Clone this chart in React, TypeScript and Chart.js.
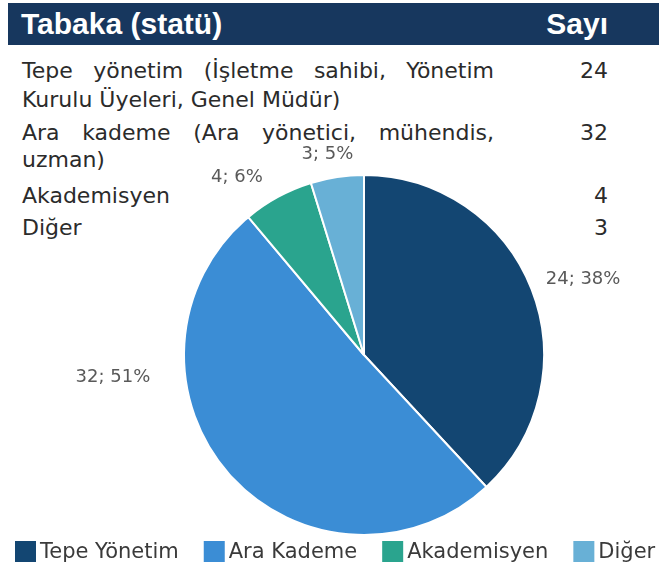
import React, { useEffect, useRef } from 'react';
import { Chart, registerables } from 'chart.js';

Chart.register(...registerables);

// ---- data ----
const categories = ['Tepe Yönetim', 'Ara Kademe', 'Akademisyen', 'Diğer'];
const counts = [24, 32, 4, 3];
const sliceColors = ['#134672', '#3b8dd5', '#2aa48e', '#68b0d6'];
const tableHeader = ['Tabaka (statü)', 'Sayı'];
const tableRowLines = [
  ['Tepe yönetim (İşletme sahibi, Yönetim', 'Kurulu Üyeleri, Genel Müdür)'],
  ['Ara kademe (Ara yönetici, mühendis,', 'uzman)'],
  ['Akademisyen'],
  ['Diğer'],
];

// ---- layout (not data) ----
const W = 659;
const H = 576;
const rowBaselines = [[79, 108], [141, 168], [204], [236]];
const labelAdjust = [
  { dAngle: 0, dR: 6 },
  { dAngle: 35.7, dR: 23 },
  { dAngle: -5, dR: 12 },
  { dAngle: -1, dR: 2 },
];
const BODY_FONT = '"DejaVu Sans", sans-serif';

const sliceLabelPlugin = {
  id: 'sliceLabels',
  afterDatasetsDraw(chart: any) {
    const ctx = chart.ctx;
    const meta = chart.getDatasetMeta(0);
    const data = chart.data.datasets[0].data as number[];
    const total = data.reduce((a: number, b: number) => a + b, 0);
    ctx.save();
    ctx.font = '18px ' + BODY_FONT;
    ctx.fillStyle = '#595959';
    ctx.textAlign = 'center';
    ctx.textBaseline = 'middle';
    meta.data.forEach((arc: any, i: number) => {
      const p = arc.getProps(['x', 'y', 'startAngle', 'endAngle', 'outerRadius'], true);
      const adj = labelAdjust[i];
      const a = (p.startAngle + p.endAngle) / 2 + (adj.dAngle * Math.PI) / 180;
      const R = p.outerRadius + 12 + adj.dR;
      const text = `${data[i]}; ${Math.round((data[i] / total) * 100)}%`;
      const w = ctx.measureText(text).width;
      const h = 18;
      const cx = p.x + R * Math.cos(a) + (Math.cos(a) * w) / 2;
      const cy = p.y + R * Math.sin(a) + (Math.sin(a) * h) / 2;
      ctx.fillText(text, cx, cy);
    });
    ctx.restore();
  },
};

const customLegendPlugin = {
  id: 'customLegend',
  afterDraw(chart: any) {
    const ctx = chart.ctx;
    const labels = chart.data.labels as string[];
    const bg = chart.data.datasets[0].backgroundColor as string[];
    ctx.save();
    ctx.font = '21px ' + BODY_FONT;
    ctx.textAlign = 'left';
    ctx.textBaseline = 'middle';
    const box = 21;
    const top = 541;
    let x = 15;
    labels.forEach((lab, i) => {
      ctx.fillStyle = bg[i];
      ctx.fillRect(x, top, box, box);
      x += box + 4;
      ctx.fillStyle = '#3a3a3a';
      ctx.fillText(lab, x, top + box / 2 + 1);
      x += ctx.measureText(lab).width + 25;
    });
    ctx.restore();
  },
};

export default function App() {
  const canvasRef = useRef<HTMLCanvasElement | null>(null);

  useEffect(() => {
    if (!canvasRef.current) return;
    const chart = new Chart(canvasRef.current, {
      type: 'pie',
      data: {
        labels: categories,
        datasets: [
          {
            data: counts,
            backgroundColor: sliceColors,
            borderColor: '#ffffff',
            borderWidth: 2,
          },
        ],
      },
      options: {
        animation: false,
        responsive: false,
        devicePixelRatio: 1,
        layout: { padding: { top: 174, left: 183, right: 114, bottom: 40 } },
        plugins: {
          legend: { display: false },
          tooltip: { enabled: false },
        },
      },
      plugins: [sliceLabelPlugin, customLegendPlugin],
    });
    return () => chart.destroy();
  }, []);

  const rowTextStyle = (baseline: number, justify: boolean): React.CSSProperties => ({
    position: 'absolute',
    left: 22,
    top: baseline - 18.6,
    width: 472,
    fontFamily: BODY_FONT,
    fontSize: 22,
    lineHeight: '22px',
    color: '#2b2b2b',
    textAlign: justify ? 'justify' : 'left',
    textAlignLast: justify ? 'justify' : 'left',
  });

  const headerStyle: React.CSSProperties = {
    position: 'absolute',
    top: 9,
    fontFamily: '"Liberation Sans", Arial, sans-serif',
    fontWeight: 'bold',
    fontSize: 30,
    lineHeight: '30px',
    color: '#ffffff',
    whiteSpace: 'nowrap',
  };

  return (
    <div
      style={{
        position: 'absolute',
        left: 0,
        top: 0,
        width: W,
        height: H,
        background: '#ffffff',
        overflow: 'hidden',
      }}
    >
      <div
        style={{
          position: 'absolute',
          left: 8,
          top: 3,
          width: W - 8,
          height: 42,
          background: '#17375e',
        }}
      />
      <div style={{ ...headerStyle, left: 21 }}>{tableHeader[0]}</div>
      <div style={{ ...headerStyle, left: 508, width: 100, textAlign: 'right' }}>{tableHeader[1]}</div>
      {tableRowLines.map((lines, r) => (
        <React.Fragment key={r}>
          {lines.map((line, l) => (
            <div key={l} style={rowTextStyle(rowBaselines[r][l], lines.length > 1 && l === 0)}>
              {line}
            </div>
          ))}
          <div
            style={{
              position: 'absolute',
              left: 528,
              width: 80,
              top: rowBaselines[r][0] - 18.6,
              textAlign: 'right',
              fontFamily: BODY_FONT,
              fontSize: 22,
              lineHeight: '22px',
              color: '#2b2b2b',
            }}
          >
            {counts[r]}
          </div>
        </React.Fragment>
      ))}
      <canvas
        ref={canvasRef}
        width={W}
        height={H}
        style={{ position: 'absolute', left: 0, top: 0, width: W, height: H }}
      />
    </div>
  );
}
